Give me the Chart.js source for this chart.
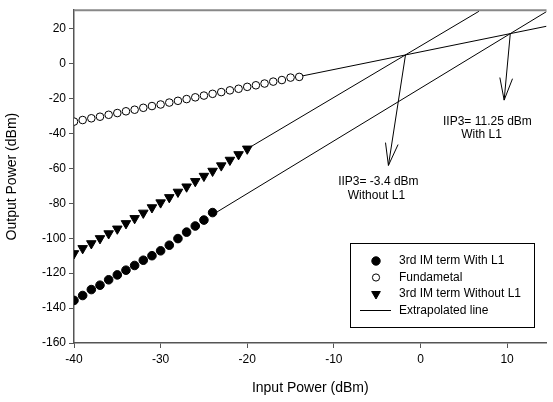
<!DOCTYPE html>
<html>
<head>
<meta charset="utf-8">
<script src="https://cdn.jsdelivr.net/npm/chart.js@4/dist/chart.umd.min.js"></script>
<style>
  html, body { margin: 0; padding: 0; background: #fff; }
  #wrap { width: 553px; height: 402px; }
</style>
</head>
<body>
<div id="wrap"><canvas id="myChart"></canvas></div>
<script>
// input power (dBm) for each measured series
const inWithL1 = [-40, -39, -38, -37, -36, -35, -34, -33, -32, -31, -30, -29, -28, -27, -26, -25, -24];
const inFund = [-40, -39, -38, -37, -36, -35, -34, -33, -32, -31, -30, -29, -28, -27, -26, -25, -24, -23, -22, -21, -20, -19, -18, -17, -16, -15, -14];
const inNoL1 = [-40, -39, -38, -37, -36, -35, -34, -33, -32, -31, -30, -29, -28, -27, -26, -25, -24, -23, -22, -21, -20];

// output power (dBm)
const imWithL1 = [-135.6, -132.8, -129.4, -126.9, -123.8, -121.0, -118.3, -115.6, -112.6, -110.0, -107.2, -104.0, -100.2, -96.5, -93.0, -89.6, -85.3];
const fundamental = [-33.2, -32.3, -31.3, -30.4, -29.3, -28.3, -27.3, -26.4, -25.3, -24.3, -23.4, -22.3, -21.3, -20.3, -19.3, -18.3, -17.3, -16.3, -15.3, -14.4, -13.3, -12.4, -11.4, -10.3, -9.4, -8.0, -7.6];
const imNoL1 = [-108.7, -105.8, -103.0, -100.1, -97.3, -94.6, -91.5, -88.6, -85.5, -82.4, -79.6, -76.6, -73.5, -70.5, -67.4, -64.4, -61.5, -58.4, -55.2, -52.0, -48.8];

// extrapolated lines, [x, y] end points
const extFund = [[-14, -7.4], [14.55, 21.4]];
const extNoL1 = [[-20, -48.8], [6.76, 30]];
const extWithL1 = [[-24, -86.5], [14.55, 29.8]];

const xTicks = [-40, -30, -20, -10, 0, 10];
const yTicks = [-160, -140, -120, -100, -80, -60, -40, -20, 0, 20];

// IIP3 annotations: arrow from intercept to tip, two text lines
const arrows = [
  { from: [-1.73, 5.0], to: [-3.7, -58.3] },
  { from: [10.37, 17.2], to: [9.66, -20.9] },
];
const notes = [
  { text: 'IIP3= -3.4 dBm', at: [-9.5, -67.8] },
  { text: 'Without L1', at: [-8.4, -75.4] },
  { text: 'IIP3= 11.25 dBm', at: [2.6, -33.0] },
  { text: 'With L1', at: [4.7, -40.9] },
];

const legendItems = [
  { label: '3rd IM term With L1', style: 'circle', fill: '#000', r: 4.2 },
  { label: 'Fundametal', style: 'circle', fill: '#fff', r: 3.6 },
  { label: '3rd IM term Without L1', style: 'triangle', fill: '#000', r: 5, rot: 180 },
  { label: 'Extrapolated line', style: 'line' },
];

const FONT = '"Liberation Sans", Arial, sans-serif';
const toXY = (xs, ys) => xs.map((x, i) => ({ x: x, y: ys[i] }));
const toPts = (arr) => arr.map((p) => ({ x: p[0], y: p[1] }));

const lineSet = (pts) => ({
  type: 'line',
  data: toPts(pts),
  borderColor: '#000',
  borderWidth: 1,
  pointRadius: 0,
  fill: false,
  order: 5,
});

const extras = {
  id: 'extras',
  afterDraw(chart) {
    const ctx = chart.ctx;
    const xs = chart.scales.x, ys = chart.scales.y;
    const a = chart.chartArea;
    ctx.save();

    // top frame line
    ctx.strokeStyle = '#888';
    ctx.lineWidth = 2;
    ctx.beginPath();
    ctx.moveTo(a.left, a.top);
    ctx.lineTo(a.right, a.top);
    ctx.stroke();

    // arrows
    ctx.strokeStyle = '#000';
    ctx.lineWidth = 1;
    arrows.forEach((ar) => {
      const x1 = xs.getPixelForValue(ar.from[0]), y1 = ys.getPixelForValue(ar.from[1]);
      const x2 = xs.getPixelForValue(ar.to[0]), y2 = ys.getPixelForValue(ar.to[1]);
      ctx.beginPath();
      ctx.moveTo(x1, y1);
      ctx.lineTo(x2, y2);
      const ang = Math.atan2(y2 - y1, x2 - x1);
      const len = 23, spread = 0.28;
      ctx.moveTo(x2 - len * Math.cos(ang - spread), y2 - len * Math.sin(ang - spread));
      ctx.lineTo(x2, y2);
      ctx.lineTo(x2 - len * Math.cos(ang + spread), y2 - len * Math.sin(ang + spread));
      ctx.stroke();
    });

    // notes
    ctx.fillStyle = '#000';
    ctx.font = '12px ' + FONT;
    ctx.textAlign = 'left';
    ctx.textBaseline = 'middle';
    notes.forEach((n) => {
      ctx.fillText(n.text, xs.getPixelForValue(n.at[0]), ys.getPixelForValue(n.at[1]));
    });

    // legend box
    const bx = 350, by = 243, bw = 184, bh = 84;
    ctx.fillStyle = '#fff';
    ctx.fillRect(bx, by, bw, bh);
    ctx.strokeStyle = '#000';
    ctx.lineWidth = 1;
    ctx.strokeRect(bx + 0.5, by + 0.5, bw, bh);
    legendItems.forEach((it, i) => {
      const yy = by + 18 + i * 16.5;
      const mx = bx + 26;
      ctx.strokeStyle = '#000';
      ctx.lineWidth = 1;
      if (it.style === 'line') {
        ctx.beginPath();
        ctx.moveTo(bx + 10, yy);
        ctx.lineTo(bx + 41, yy);
        ctx.stroke();
      } else {
        ctx.fillStyle = it.fill;
        Chart.helpers.drawPoint(ctx, { pointStyle: it.style, radius: it.r, rotation: it.rot || 0, borderWidth: 1 }, mx, yy);
      }
      ctx.fillStyle = '#000';
      ctx.font = '12px ' + FONT;
      ctx.textAlign = 'left';
      ctx.textBaseline = 'middle';
      ctx.fillText(it.label, bx + 49, yy);
    });
    ctx.restore();
  },
};

const config = {
  type: 'scatter',
  data: {
    datasets: [
      {
        label: '3rd IM term With L1',
        data: toXY(inWithL1, imWithL1),
        pointStyle: 'circle',
        pointRadius: 4.3,
        backgroundColor: '#000',
        borderColor: '#000',
        borderWidth: 1,
        order: 1,
      },
      {
        label: 'Fundametal',
        data: toXY(inFund, fundamental),
        pointStyle: 'circle',
        pointRadius: 3.8,
        backgroundColor: '#fff',
        borderColor: '#000',
        borderWidth: 1,
        order: 1,
      },
      {
        label: '3rd IM term Without L1',
        data: toXY(inNoL1, imNoL1),
        pointStyle: 'triangle',
        pointRotation: 180,
        pointRadius: 5.5,
        backgroundColor: '#000',
        borderColor: '#000',
        borderWidth: 1,
        order: 1,
      },
      Object.assign(lineSet(extFund), { label: 'Extrapolated line' }),
      lineSet(extNoL1),
      lineSet(extWithL1),
    ],
  },
  options: {
    responsive: false,
    animation: false,
    devicePixelRatio: 1,
    layout: { padding: { top: 7, right: 0, left: 0, bottom: 0 } },
    plugins: {
      legend: { display: false },
      tooltip: { enabled: false },
    },
    scales: {
      x: {
        type: 'linear',
        min: -40,
        max: 14.55,
        afterBuildTicks: (s) => { s.ticks = xTicks.map((v) => ({ value: v })); },
        afterFit: (s) => { s.height = 59; },
        grid: { drawOnChartArea: false, drawTicks: true, tickLength: 5, color: '#555', lineWidth: 1 },
        border: { display: true, color: '#555', width: 1.5 },
        ticks: { color: '#000', font: { family: FONT, size: 12 }, padding: 4, maxRotation: 0 },
        title: { display: true, text: 'Input Power (dBm)', color: '#000', font: { family: FONT, size: 14 }, padding: { top: 4, bottom: 5 } },
      },
      y: {
        type: 'linear',
        min: -160,
        max: 30.6,
        afterBuildTicks: (s) => { s.ticks = yTicks.map((v) => ({ value: v })); },
        afterFit: (s) => { s.width = 74; },
        grid: { drawOnChartArea: false, drawTicks: true, tickLength: 5, color: '#555', lineWidth: 1 },
        border: { display: true, color: '#555', width: 1.5 },
        ticks: { color: '#000', font: { family: FONT, size: 12 }, padding: 3 },
        title: { display: true, text: 'Output Power (dBm)', color: '#000', font: { family: FONT, size: 14 }, padding: { top: 4, bottom: 4 } },
      },
    },
  },
  plugins: [extras],
};

const canvas = document.getElementById('myChart');
canvas.width = 553;
canvas.height = 402;
const myChart = new Chart(canvas, config);
</script>
</body>
</html>
